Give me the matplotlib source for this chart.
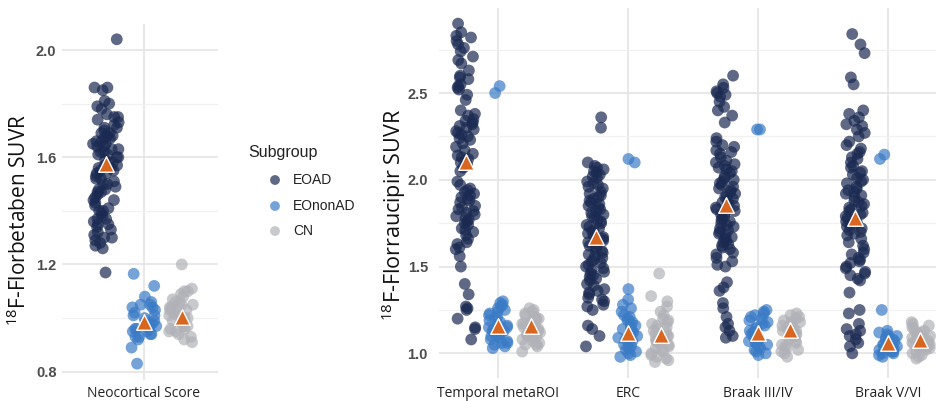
import numpy as np
import matplotlib
matplotlib.use('Agg')
import matplotlib.pyplot as plt

plt.rcParams['font.family'] = ['Open Sans', 'DejaVu Sans']
plt.rcParams['mathtext.fontset'] = 'custom'
plt.rcParams['mathtext.rm'] = 'Open Sans'

# ---------------- data ----------------
groups = ['EOAD', 'EOnonAD', 'CN']
neo_regions = ['Neocortical Score']
tau_regions = ['Temporal metaROI', 'ERC', 'Braak III/IV', 'Braak V/VI']

neo_eoad = [2.04, 1.86, 1.86, 1.85, 1.81, 1.80, 1.79, 1.78, 1.76, 1.75, 1.75, 1.74, 1.73, 1.72,
            1.71, 1.71, 1.70, 1.69, 1.69, 1.68, 1.68, 1.67, 1.67, 1.66, 1.66, 1.65, 1.65, 1.64,
            1.64, 1.63, 1.63, 1.62, 1.62, 1.61, 1.61, 1.60, 1.60, 1.59, 1.58, 1.58, 1.57, 1.57,
            1.56, 1.56, 1.55, 1.55, 1.54, 1.54, 1.53, 1.52, 1.52, 1.51, 1.50, 1.50, 1.49, 1.48,
            1.48, 1.47, 1.47, 1.46, 1.45, 1.44, 1.44, 1.43, 1.42, 1.41, 1.40, 1.40, 1.39, 1.38,
            1.37, 1.37, 1.36, 1.35, 1.35, 1.34, 1.33, 1.32, 1.31, 1.30, 1.30, 1.29, 1.28, 1.27,
            1.26, 1.17]
neo_eononad = [1.165, 1.12, 1.08, 1.06, 1.05, 1.05, 1.04, 1.04, 1.03, 1.02, 1.01, 1.01, 1.00,
               0.99, 0.99, 0.98, 0.98, 0.97, 0.97, 0.96, 0.96, 0.96, 0.95, 0.95, 0.94, 0.94,
               0.93, 0.93, 0.92, 0.89, 0.83]
neo_cn = [1.20, 1.11, 1.10, 1.10, 1.09, 1.08, 1.07, 1.06, 1.06, 1.05, 1.05, 1.04, 1.04, 1.03,
          1.03, 1.02, 1.02, 1.01, 1.01, 1.00, 1.00, 1.00, 0.99, 0.99, 0.98, 0.98, 0.97, 0.97,
          0.96, 0.96, 0.95, 0.95, 0.94, 0.93, 0.92, 0.91]
neo_means = [1.573, 0.985, 1.004]

tau_eoad_temporal = [2.90, 2.85, 2.83, 2.82, 2.80, 2.78, 2.76, 2.74, 2.71, 2.69, 2.67, 2.63, 2.60,
                     2.59, 2.58, 2.55, 2.54, 2.53, 2.52, 2.49, 2.46, 2.40, 2.38, 2.37, 2.35, 2.34,
                     2.33, 2.32, 2.31, 2.30, 2.29, 2.28, 2.27, 2.26, 2.25, 2.24, 2.23, 2.21, 2.19,
                     2.17, 2.15, 2.14, 2.13, 2.12, 2.11, 2.10, 2.09, 2.07, 2.05, 1.99, 1.97, 1.95,
                     1.94, 1.93, 1.92, 1.91, 1.90, 1.89, 1.88, 1.87, 1.85, 1.84, 1.83, 1.82, 1.81,
                     1.80, 1.79, 1.78, 1.77, 1.76, 1.75, 1.74, 1.72, 1.71, 1.70, 1.68, 1.66, 1.64,
                     1.63, 1.61, 1.60, 1.56, 1.50, 1.40, 1.34, 1.27, 1.26, 1.25, 1.20, 1.15, 1.14,
                     1.08]
tau_eoad_erc = [2.36, 2.30, 2.10, 2.08, 2.07, 2.06, 2.05, 2.04, 2.03, 2.02, 2.01, 1.99, 1.98,
                1.97, 1.96, 1.95, 1.93, 1.92, 1.91, 1.90, 1.89, 1.88, 1.87, 1.86, 1.85, 1.84,
                1.83, 1.82, 1.81, 1.80, 1.79, 1.78, 1.77, 1.76, 1.75, 1.74, 1.73, 1.72, 1.71,
                1.70, 1.69, 1.68, 1.67, 1.66, 1.65, 1.64, 1.63, 1.62, 1.61, 1.60, 1.59, 1.58,
                1.57, 1.56, 1.55, 1.54, 1.53, 1.52, 1.51, 1.50, 1.49, 1.48, 1.47, 1.46, 1.45,
                1.44, 1.43, 1.42, 1.40, 1.39, 1.37, 1.36, 1.35, 1.34, 1.32, 1.31, 1.30, 1.28,
                1.27, 1.25, 1.16, 1.14, 1.10, 1.04]
tau_eoad_b34 = [2.60, 2.55, 2.53, 2.51, 2.50, 2.49, 2.48, 2.45, 2.42, 2.40, 2.37, 2.33, 2.24,
                2.22, 2.20, 2.19, 2.17, 2.16, 2.15, 2.13, 2.11, 2.10, 2.09, 2.08, 2.07, 2.06,
                2.05, 2.04, 2.02, 2.01, 2.00, 1.99, 1.98, 1.97, 1.96, 1.95, 1.94, 1.93, 1.92,
                1.91, 1.90, 1.89, 1.88, 1.87, 1.86, 1.85, 1.84, 1.83, 1.82, 1.81, 1.80, 1.79,
                1.78, 1.77, 1.76, 1.75, 1.74, 1.73, 1.72, 1.71, 1.70, 1.69, 1.68, 1.67, 1.66,
                1.65, 1.64, 1.63, 1.62, 1.61, 1.60, 1.58, 1.57, 1.55, 1.53, 1.51, 1.50, 1.41,
                1.38, 1.36, 1.29, 1.26, 1.21, 1.17, 1.15, 1.13, 1.10, 1.09]
tau_eoad_b56 = [2.84, 2.78, 2.73, 2.59, 2.55, 2.40, 2.38, 2.36, 2.34, 2.32, 2.31, 2.29, 2.27,
                2.25, 2.22, 2.20, 2.18, 2.16, 2.15, 2.13, 2.12, 2.10, 2.08, 2.07, 2.05, 2.04,
                2.03, 2.01, 2.00, 1.99, 1.98, 1.96, 1.95, 1.94, 1.93, 1.92, 1.91, 1.90, 1.88,
                1.87, 1.86, 1.85, 1.84, 1.83, 1.82, 1.81, 1.80, 1.79, 1.78, 1.77, 1.76, 1.75,
                1.74, 1.73, 1.72, 1.71, 1.70, 1.69, 1.68, 1.66, 1.64, 1.62, 1.60, 1.58, 1.57,
                1.55, 1.54, 1.53, 1.52, 1.50, 1.49, 1.47, 1.46, 1.45, 1.43, 1.42, 1.35, 1.25,
                1.23, 1.17, 1.14, 1.13, 1.11, 1.10, 1.08, 1.06, 1.04, 1.00]

tau_eon_temporal = [2.54, 2.50, 1.30, 1.29, 1.28, 1.27, 1.26, 1.25, 1.24, 1.23, 1.22, 1.21, 1.20,
                    1.19, 1.18, 1.17, 1.16, 1.15, 1.15, 1.14, 1.13, 1.13, 1.12, 1.11, 1.10, 1.10,
                    1.09, 1.08, 1.07, 1.06, 1.06, 1.05, 1.04, 1.03]
tau_eon_erc = [2.12, 2.10, 1.37, 1.31, 1.28, 1.26, 1.24, 1.22, 1.21, 1.20, 1.19, 1.18, 1.17, 1.16,
               1.15, 1.14, 1.13, 1.12, 1.11, 1.10, 1.09, 1.08, 1.07, 1.06, 1.05, 1.04, 1.03, 1.02,
               1.01, 1.00, 0.99, 0.98]
tau_eon_b34 = [2.29, 2.29, 1.25, 1.24, 1.23, 1.22, 1.21, 1.20, 1.19, 1.18, 1.17, 1.16, 1.15, 1.14,
               1.13, 1.12, 1.12, 1.11, 1.10, 1.09, 1.08, 1.07, 1.06, 1.06, 1.05, 1.04, 1.03, 1.02,
               1.01, 1.00, 0.99]
tau_eon_b56 = [2.145, 2.12, 1.25, 1.13, 1.12, 1.11, 1.10, 1.10, 1.09, 1.08, 1.08, 1.07, 1.06, 1.06,
               1.05, 1.05, 1.04, 1.04, 1.03, 1.03, 1.02, 1.02, 1.01, 1.01, 1.00, 1.00, 0.99, 0.98]

tau_cn_temporal = [1.26, 1.25, 1.24, 1.23, 1.22, 1.21, 1.20, 1.20, 1.19, 1.18, 1.18, 1.17, 1.17,
                   1.16, 1.16, 1.15, 1.15, 1.14, 1.14, 1.13, 1.13, 1.12, 1.12, 1.11, 1.11, 1.10,
                   1.10, 1.09, 1.09, 1.08, 1.07, 1.06, 1.05, 1.05, 1.04, 1.01]
tau_cn_erc = [1.46, 1.33, 1.30, 1.27, 1.24, 1.22, 1.20, 1.19, 1.18, 1.17, 1.16, 1.15, 1.14, 1.13,
              1.12, 1.11, 1.10, 1.10, 1.09, 1.08, 1.07, 1.07, 1.06, 1.05, 1.04, 1.03, 1.02, 1.01,
              1.00, 0.99, 0.98, 0.97, 0.96, 0.95]
tau_cn_b34 = [1.23, 1.22, 1.21, 1.20, 1.19, 1.18, 1.18, 1.17, 1.16, 1.16, 1.15, 1.14, 1.14, 1.13,
              1.13, 1.12, 1.12, 1.11, 1.10, 1.10, 1.09, 1.08, 1.07, 1.06, 1.05, 1.04, 1.03, 1.02,
              1.01, 1.00, 0.98]
tau_cn_b56 = [1.18, 1.17, 1.16, 1.15, 1.14, 1.13, 1.12, 1.12, 1.11, 1.10, 1.10, 1.09, 1.08, 1.08,
              1.07, 1.07, 1.06, 1.06, 1.05, 1.05, 1.04, 1.04, 1.03, 1.03, 1.02, 1.01, 1.00, 0.99,
              0.98, 0.97]

tau_means_eoad = [2.10, 1.67, 1.855, 1.78]
tau_means_eononad = [1.157, 1.117, 1.117, 1.06]
tau_means_cn = [1.157, 1.105, 1.134, 1.077]

# ---------------- styling ----------------
colors = {'EOAD': '#1b2a52', 'EOnonAD': '#3a7bc6', 'CN': '#b0b2b7'}
ALPHA = 0.7
PT_S = 72
TRI_COLOR = '#d9661f'
TICK_COLOR = '#4d4d4d'
GRID_MAJ = '#e6e6e6'
GRID_MIN = '#f1f1f1'
DODGE = {'EOAD': -0.25, 'EOnonAD': 0.0, 'CN': 0.25}


def jitter(n, seed, width):
    i = np.arange(n) + 1
    v = np.sin(i * 12.9898 + seed * 78.233) * 43758.5453
    return (2 * (v - np.floor(v)) - 1) * width


def style_axes(ax, ymaj, ymin, pad, xpad):
    for s in ax.spines.values():
        s.set_visible(False)
    ax.set_yticks(ymaj)
    ax.set_yticks(ymin, minor=True)
    ax.grid(which='major', axis='both', color=GRID_MAJ, lw=1.3, zorder=0)
    ax.grid(which='minor', axis='y', color=GRID_MIN, lw=0.9, zorder=0)
    ax.tick_params(axis='both', which='both', length=0)
    ax.tick_params(axis='y', pad=pad, labelcolor=TICK_COLOR)
    for lab in ax.get_yticklabels():
        lab.set_fontfamily(['Liberation Sans', 'DejaVu Sans'])
        lab.set_fontweight('bold')
        lab.set_fontsize(10.5)
    ax.tick_params(axis='x', pad=xpad, labelsize=10, labelcolor='#222222')
    ax.set_axisbelow(True)


W, H = 936, 401
fig = plt.figure(figsize=(W / 100, H / 100), dpi=100)

# ---- left panel ----
axL = fig.add_axes([62 / W, (H - 380) / H, 156 / W, 356 / H])
neo_data = {'EOAD': [neo_eoad], 'EOnonAD': [neo_eononad], 'CN': [neo_cn]}
neo_mean_d = dict(zip(groups, [[m] for m in neo_means]))
for gi, g in enumerate(groups):
    for ri, vals in enumerate(neo_data[g]):
        x = ri + DODGE[g] + jitter(len(vals), gi * 7 + ri, 0.085)
        axL.scatter(x, vals, s=PT_S, color=colors[g], alpha=ALPHA, edgecolors='none', zorder=2)
for gi, g in enumerate(groups):
    for ri, m in enumerate(neo_mean_d[g]):
        axL.scatter([ri + DODGE[g]], [m], marker='^', s=125, color=TRI_COLOR,
                    edgecolors='white', linewidths=1.0, zorder=5)
axL.set_xlim(-0.54, 0.49)
axL.set_ylim(0.769, 2.097)
axL.set_xticks(range(len(neo_regions)))
axL.set_xticklabels(neo_regions)
style_axes(axL, [0.8, 1.2, 1.6, 2.0], [1.0, 1.4, 1.8], 4, 4)

# ---- right panel ----
axR = fig.add_axes([439 / W, (H - 378) / H, 497 / W, 370 / H])
tau_data = {
    'EOAD': [tau_eoad_temporal, tau_eoad_erc, tau_eoad_b34, tau_eoad_b56],
    'EOnonAD': [tau_eon_temporal, tau_eon_erc, tau_eon_b34, tau_eon_b56],
    'CN': [tau_cn_temporal, tau_cn_erc, tau_cn_b34, tau_cn_b56],
}
tau_means = {'EOAD': tau_means_eoad, 'EOnonAD': tau_means_eononad, 'CN': tau_means_cn}
for gi, g in enumerate(groups):
    for ri, vals in enumerate(tau_data[g]):
        x = ri + 1 + DODGE[g] + jitter(len(vals), 20 + gi * 7 + ri, 0.075)
        axR.scatter(x, vals, s=PT_S, color=colors[g], alpha=ALPHA, edgecolors='none', zorder=2)
for gi, g in enumerate(groups):
    for ri, m in enumerate(tau_means[g]):
        axR.scatter([ri + 1 + DODGE[g]], [m], marker='^', s=125, color=TRI_COLOR,
                    edgecolors='white', linewidths=1.0, zorder=5)
axR.set_xlim(1 - 59 / 130, 1 + (936 - 498) / 130)
axR.set_ylim(0.858, 2.990)
axR.set_xticks(range(1, len(tau_regions) + 1))
axR.set_xticklabels(tau_regions)
style_axes(axR, [1.0, 1.5, 2.0, 2.5], [1.25, 1.75, 2.25, 2.75], 8, 6)

# ---- axis titles ----
fig.text(19 / W, 1 - 220 / H, r'$\mathregular{^{18}}$F-Florbetaben SUVR', rotation=90,
         ha='center', va='center', fontsize=15, color='#111111')
fig.text(394 / W, 1 - 215 / H, r'$\mathregular{^{18}}$F-Florraucipir SUVR', rotation=90,
         ha='center', va='center', fontsize=15.5, color='#111111')

# ---- legend ----
lax = fig.add_axes([0, 0, 1, 1], facecolor='none')
lax.set_xlim(0, W)
lax.set_ylim(H, 0)
lax.axis('off')
lax.text(248, 152, 'Subgroup', ha='left', va='center', fontsize=11.5,
         family=['Liberation Sans', 'DejaVu Sans'], color='#222222')
for g, yy in zip(groups, [180, 206, 231]):
    lax.scatter([275], [yy], s=50, color=colors[g], alpha=ALPHA, edgecolors='none')
    lax.text(293, yy, g, ha='left', va='center', fontsize=10,
             family=['Liberation Sans', 'DejaVu Sans'], color='#222222')

fig.savefig('out.png', dpi=100)
